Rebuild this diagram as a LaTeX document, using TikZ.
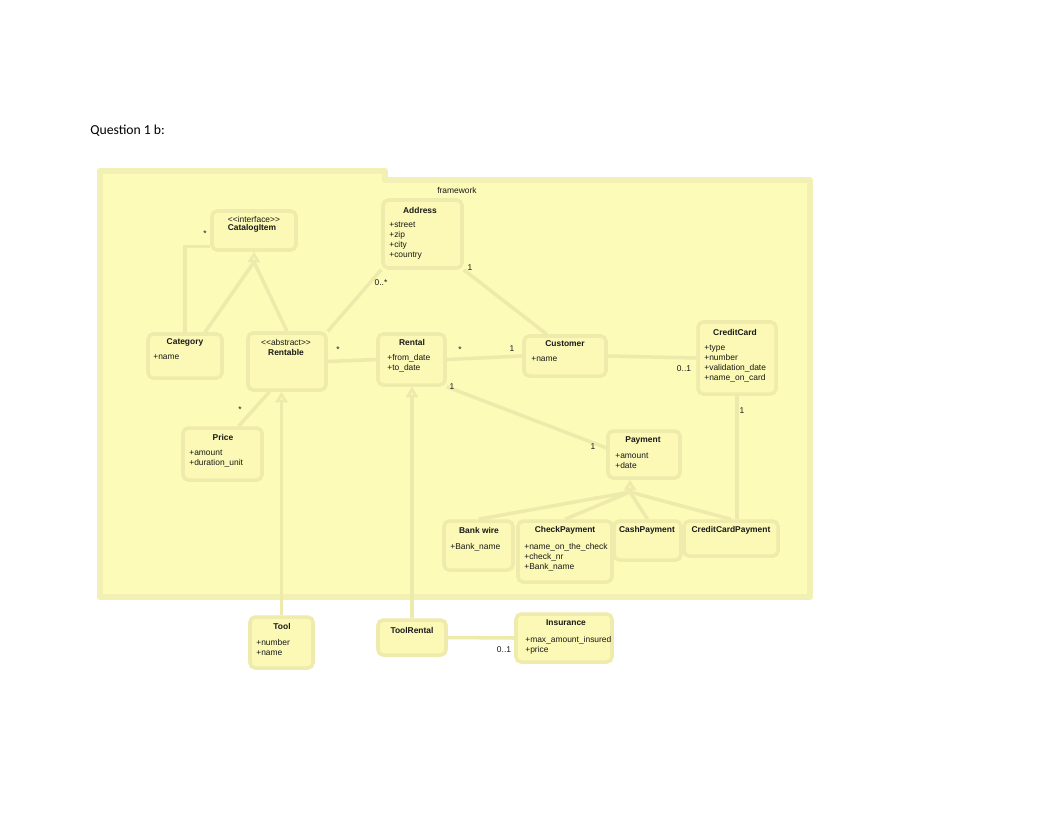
\documentclass[tikz,border=0pt]{standalone}
\usepackage{fontspec}
\setmainfont{Liberation Sans}
\newfontfamily\qfont{Carlito}
\usetikzlibrary{fit,arrows.meta}

\definecolor{pkgfill}{RGB}{252,251,183}
\definecolor{pkgedge}{RGB}{243,240,180}
\definecolor{boxfill}{RGB}{251,249,181}
\definecolor{boxedge}{RGB}{239,235,172}
\definecolor{wire}{RGB}{238,234,172}
\definecolor{ink}{RGB}{25,25,25}

\tikzset{
  cls/.style={draw=boxedge, fill=boxfill, line width=2pt, inner sep=0pt, rounded corners=3pt},
  cname/.style={font=\fontsize{4.8}{5.7}\selectfont\bfseries, text=ink, inner sep=0pt},
  stereo/.style={font=\fontsize{4.8}{5.7}\selectfont, text=ink, inner sep=0pt},
  attrs/.style={font=\fontsize{4.8}{5.7}\selectfont, text=ink, align=left, anchor=north west, inner sep=0pt},
  mult/.style={font=\fontsize{4.8}{5.7}\selectfont, text=ink, inner sep=0pt},
  assoc/.style={draw=wire, line width=2pt},
  inherit/.style={assoc, -{Triangle[open, length=6pt, width=7pt]}},
}

\begin{document}
\begin{tikzpicture}[x=0.02cm, y=-0.02cm]
    \fill[white] (0,0) rectangle (1062,822);
    \useasboundingbox (0,0) rectangle (1062,822);

    \node[anchor=west, font=\qfont\fontsize{7.8}{9}\selectfont, inner sep=0pt] (title) at (90,131) {Question 1 b:};

    % package frame
    \draw[pkgedge, fill=pkgfill, line width=3pt, line join=round]
        (100,171) -- (385,171) -- (385,180) -- (810,180) -- (810,597) -- (100,597) -- cycle;
    \node[stereo] (pkgname) at (457,190) {framework};

    % classes
    \node[cls, fit={(212,211) (296,250)}] (catalog) {};
    \node[cls, fit={(383,200) (462,268)}] (address) {};
    \node[cls, fit={(148,334) (222,378)}] (category) {};
    \node[cls, fit={(248,333) (326,390)}] (rentable) {};
    \node[cls, fit={(378,334) (445,385)}] (rental) {};
    \node[cls, fit={(524,336) (606,376)}] (customer) {};
    \node[cls, fit={(698,322) (776,394)}] (creditcard) {};
    \node[cls, fit={(183,428) (262,480)}] (price) {};
    \node[cls, fit={(608,431) (680,478)}] (payment) {};
    \node[cls, fit={(444,521) (513,570)}] (bankwire) {};
    \node[cls, fit={(518,521) (612,582)}] (checkpay) {};
    \node[cls, fit={(614,521) (681,560)}] (cashpay) {};
    \node[cls, fit={(684,521) (778,556)}] (ccpay) {};
    \node[cls, fit={(250,617) (313,668)}] (tool) {};
    \node[cls, fit={(378,620) (446,655)}] (toolrental) {};
    \node[cls, fit={(516,614) (612,662)}] (insurance) {};

    % connectors
    \coordinate (catgen) at (254,262);
    \coordinate (paygen) at (630,492);
    \draw[assoc] (category.north) |- (catalog.200);
    \draw[assoc] (category.50) -- (catgen);
    \draw[assoc] (rentable.north) -- (catgen);
    \draw[inherit] (catgen) -- (catalog.south);
    \draw[assoc] (rentable.north east) -- (address.south west);
    \draw[assoc] (address.south east) -- (customer.130);
    \draw[assoc] (rentable.east) -- (rental.west);
    \draw[assoc] (rental.east) -- (customer.west);
    \draw[assoc] (customer.east) -- (creditcard.west);
    \draw[assoc] (rental.south east) -- (payment.170);
    \draw[assoc] (rentable.-120) -- (price.60);
    \draw[assoc] (bankwire.north) -- (paygen);
    \draw[assoc] (checkpay.north) -- (paygen);
    \draw[assoc] (cashpay.north) -- (paygen);
    \draw[assoc] (ccpay.north) -- (paygen);
    \draw[inherit] (paygen) -- (paygen |- payment.south);
    \draw[assoc] (creditcard.south) -- (creditcard.south |- ccpay.north);
    \draw[inherit] (tool.north) -- (tool.north |- rentable.south);
    \draw[inherit] (toolrental.north) -- (toolrental.north |- rental.south);
    \draw[assoc] (toolrental.east) -- (insurance.west);

    % texts
    \node[stereo] (catalogst) at (254,219) {<{}<interface>{}>};
    \node[cname] (catalogname) at (252,228) {CatalogItem};
    \node[cname] (addressname) at (420,210) {Address};
    \node[attrs] (addressattr) at (389,222) {+street\\+zip\\+city\\+country};
    \node[cname] (categoryname) at (185,342) {Category};
    \node[attrs] (categoryattr) at (153,354) {+name};
    \node[stereo] (rentablest) at (286,342) {<{}<abstract>{}>};
    \node[cname] (rentablename) at (286,352) {Rentable};
    \node[cname] (rentalname) at (412,342) {Rental};
    \node[attrs] (rentalattr) at (387,354) {+from\_date\\+to\_date};
    \node[cname] (customername) at (565,344) {Customer};
    \node[attrs] (customerattr) at (531,356) {+name};
    \node[cname] (creditcardname) at (735,332) {CreditCard};
    \node[attrs] (creditcardattr) at (704,345) {+type\\+number\\+validation\_date\\+name\_on\_card};
    \node[cname] (pricename) at (223,437) {Price};
    \node[attrs] (priceattr) at (189,450) {+amount\\+duration\_unit};
    \node[cname] (paymentname) at (643,440) {Payment};
    \node[attrs] (paymentattr) at (615,453) {+amount\\+date};
    \node[cname] (bankwirename) at (479,530) {Bank wire};
    \node[attrs] (bankwireattr) at (450,543) {+Bank\_name};
    \node[cname] (checkpayname) at (565,530) {CheckPayment};
    \node[attrs] (checkpayattr) at (524,543) {+name\_on\_the\_check\\+check\_nr\\+Bank\_name};
    \node[cname] (cashpayname) at (647,530) {CashPayment};
    \node[cname] (ccpayname) at (731,530) {CreditCardPayment};
    \node[cname] (toolname) at (282,626) {Tool};
    \node[attrs] (toolattr) at (256,639) {+number\\+name};
    \node[cname] (toolrentalname) at (412,630) {ToolRental};
    \node[cname] (insurancename) at (566,623) {Insurance};
    \node[attrs] (insuranceattr) at (525,636) {+max\_amount\_insured\\+price};

    % multiplicities
    \node[mult] (m1) at (205,234) {*};
    \node[mult] (m2) at (470,268) {1};
    \node[mult] (m3) at (381,283) {0..*};
    \node[mult] (m4) at (338,350) {*};
    \node[mult] (m5) at (460,350) {*};
    \node[mult] (m6) at (512,349) {1};
    \node[mult] (m7) at (452,387) {1};
    \node[mult] (m8) at (684,369) {0..1};
    \node[mult] (m9) at (742,411) {1};
    \node[mult] (m10) at (240,410) {*};
    \node[mult] (m11) at (593,447) {1};
    \node[mult] (m12) at (504,650) {0..1};
\end{tikzpicture}
\end{document}
